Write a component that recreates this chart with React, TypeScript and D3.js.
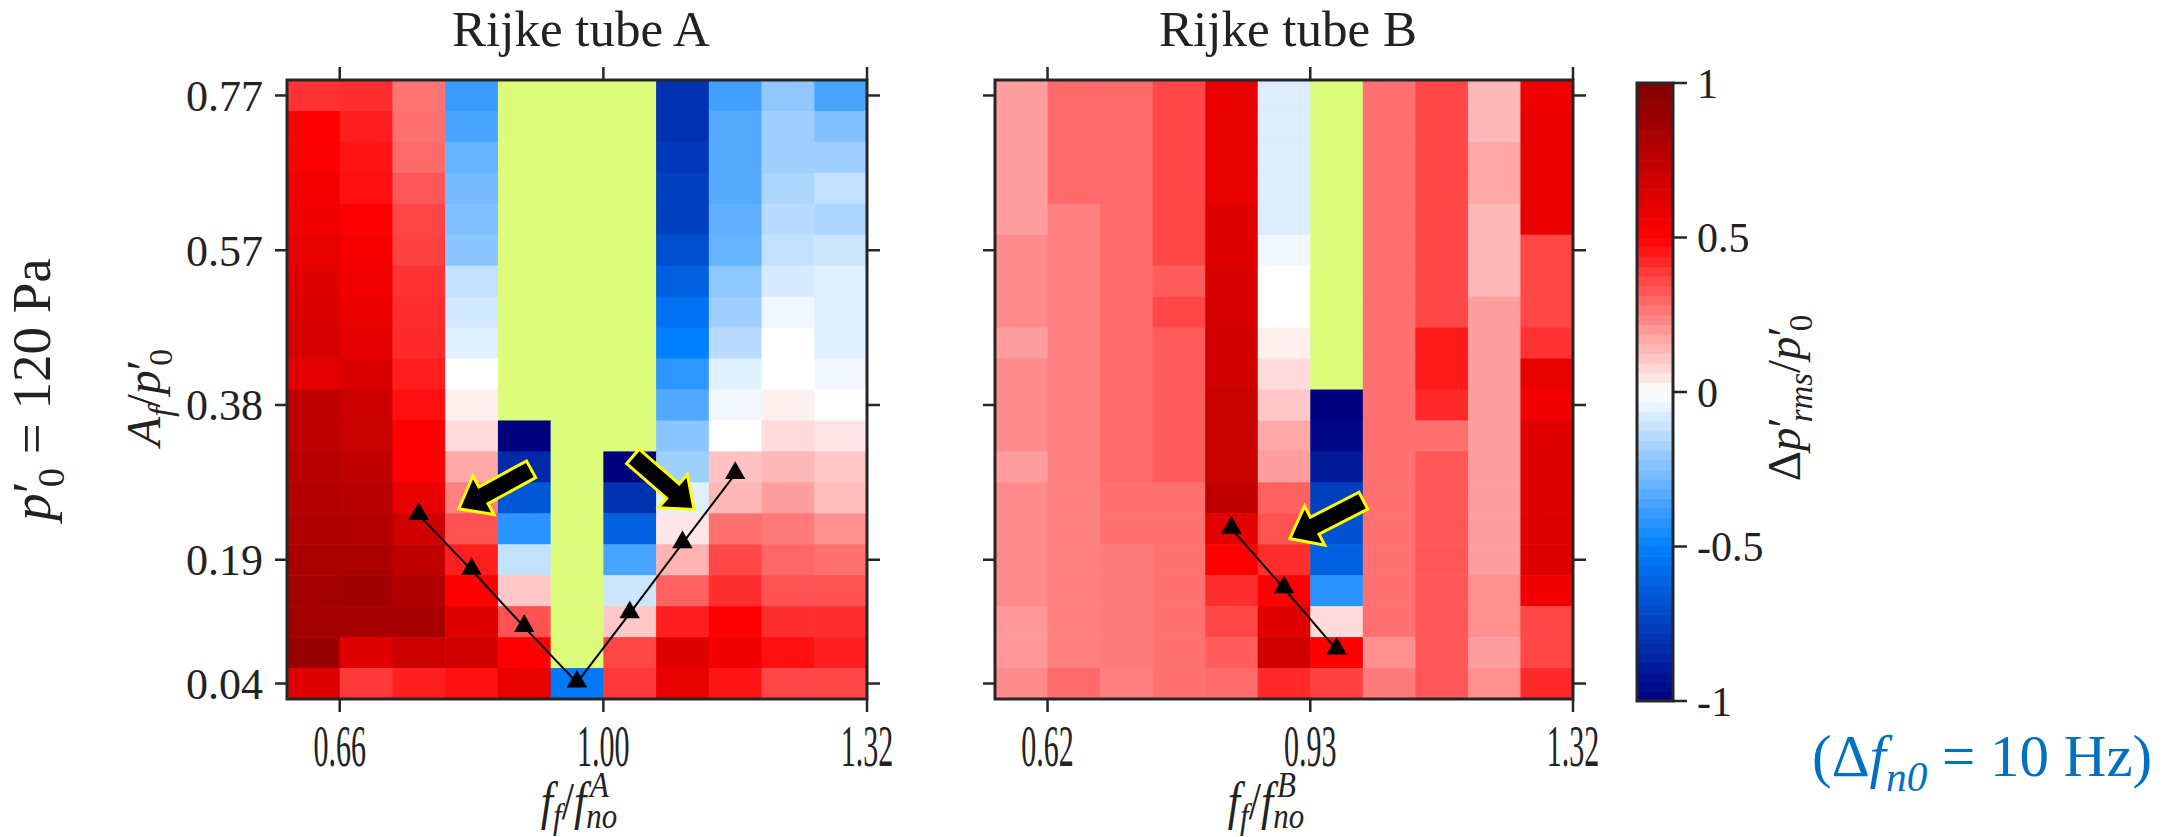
import { useEffect, useRef } from 'react';
import * as d3 from 'd3';

// rows run from top (A_f/p0 = 0.77) to bottom (0.04), 11 forcing-frequency columns; null = no data (green)
const tubeA: (number | null)[][] = [
  [0.40, 0.41, 0.27, -0.39, null, null, null, -0.81, -0.37, -0.22, -0.36],
  [0.50, 0.44, 0.28, -0.36, null, null, null, -0.81, -0.33, -0.19, -0.25],
  [0.51, 0.46, 0.29, -0.30, null, null, null, -0.78, -0.33, -0.19, -0.19],
  [0.54, 0.47, 0.33, -0.27, null, null, null, -0.75, -0.33, -0.16, -0.12],
  [0.56, 0.50, 0.36, -0.25, null, null, null, -0.75, -0.31, -0.14, -0.16],
  [0.59, 0.53, 0.37, -0.23, null, null, null, -0.69, -0.30, -0.12, -0.10],
  [0.62, 0.55, 0.40, -0.12, null, null, null, -0.62, -0.22, -0.08, -0.06],
  [0.64, 0.58, 0.41, -0.09, null, null, null, -0.56, -0.19, -0.03, -0.06],
  [0.66, 0.60, 0.42, -0.06, null, null, null, -0.50, -0.14, 0.00, -0.06],
  [0.60, 0.64, 0.44, 0.00, null, null, null, -0.41, -0.06, 0.00, -0.03],
  [0.75, 0.70, 0.47, 0.03, null, null, null, -0.34, -0.03, 0.03, 0.00],
  [0.75, 0.72, 0.50, 0.07, -1.00, null, null, -0.23, 0.00, 0.07, 0.05],
  [0.78, 0.75, 0.50, 0.17, -0.84, null, -1.00, -0.19, 0.12, 0.14, 0.11],
  [0.80, 0.78, 0.59, 0.25, -0.66, null, -0.81, -0.06, 0.14, 0.19, 0.13],
  [0.81, 0.80, 0.68, 0.34, -0.42, null, -0.62, 0.05, 0.28, 0.26, 0.22],
  [0.83, 0.83, 0.75, 0.44, -0.12, null, -0.36, 0.15, 0.36, 0.30, 0.28],
  [0.85, 0.87, 0.81, 0.50, 0.11, null, -0.10, 0.31, 0.41, 0.34, 0.34],
  [0.86, 0.84, 0.84, 0.62, 0.34, null, 0.11, 0.44, 0.50, 0.41, 0.41],
  [0.90, 0.62, 0.70, 0.68, 0.50, null, 0.36, 0.62, 0.56, 0.47, 0.44],
  [0.63, 0.39, 0.44, 0.47, 0.59, -0.53, 0.39, 0.59, 0.46, 0.36, 0.36],
];

const tubeB: (number | null)[][] = [
  [0.19, 0.29, 0.29, 0.36, 0.59, -0.07, null, 0.28, 0.36, 0.14, 0.56],
  [0.19, 0.29, 0.29, 0.36, 0.59, -0.07, null, 0.28, 0.36, 0.14, 0.58],
  [0.19, 0.29, 0.29, 0.36, 0.59, -0.07, null, 0.28, 0.36, 0.17, 0.58],
  [0.19, 0.29, 0.29, 0.36, 0.59, -0.07, null, 0.28, 0.36, 0.17, 0.58],
  [0.19, 0.25, 0.29, 0.36, 0.62, -0.07, null, 0.28, 0.36, 0.14, 0.58],
  [0.23, 0.25, 0.29, 0.36, 0.62, -0.03, null, 0.28, 0.36, 0.14, 0.36],
  [0.23, 0.25, 0.29, 0.32, 0.65, 0.00, null, 0.28, 0.36, 0.14, 0.36],
  [0.23, 0.25, 0.29, 0.36, 0.65, 0.00, null, 0.28, 0.36, 0.19, 0.36],
  [0.19, 0.25, 0.29, 0.32, 0.68, 0.03, null, 0.28, 0.45, 0.19, 0.40],
  [0.23, 0.25, 0.29, 0.32, 0.68, 0.07, null, 0.28, 0.45, 0.19, 0.59],
  [0.23, 0.25, 0.29, 0.32, 0.72, 0.11, -1.00, 0.28, 0.42, 0.19, 0.56],
  [0.23, 0.25, 0.29, 0.32, 0.72, 0.17, -0.97, 0.28, 0.28, 0.19, 0.63],
  [0.19, 0.25, 0.29, 0.32, 0.72, 0.19, -0.90, 0.28, 0.33, 0.19, 0.63],
  [0.23, 0.25, 0.28, 0.28, 0.75, 0.31, -0.75, 0.28, 0.33, 0.19, 0.63],
  [0.23, 0.25, 0.28, 0.28, 0.60, 0.34, -0.68, 0.28, 0.33, 0.19, 0.63],
  [0.23, 0.25, 0.26, 0.28, 0.50, 0.41, -0.62, 0.28, 0.33, 0.19, 0.63],
  [0.23, 0.25, 0.26, 0.28, 0.41, 0.50, -0.42, 0.28, 0.33, 0.22, 0.56],
  [0.20, 0.25, 0.26, 0.28, 0.36, 0.62, 0.07, 0.28, 0.33, 0.22, 0.36],
  [0.20, 0.25, 0.26, 0.28, 0.32, 0.68, 0.50, 0.22, 0.33, 0.19, 0.36],
  [0.23, 0.29, 0.25, 0.28, 0.29, 0.42, 0.37, 0.26, 0.33, 0.22, 0.42],
];

const yTickRows = [0, 5, 10, 15, 19];
const yTickLabels = ['0.77', '0.57', '0.38', '0.19', '0.04'];
const xTickCols = [1, 6, 11];
const xTickLabelsA = ['0.66', '1.00', '1.32'];
const xTickLabelsB = ['0.62', '0.93', '1.32'];

// triangle markers: column index, A_f/p0
const markerColsA = [2, 3, 4, 5, 6, 7, 8];
const markerAmpsA = [0.249, 0.181, 0.110, 0.041, 0.127, 0.214, 0.300];
const markerColsB = [4, 5, 6];
const markerAmpsB = [0.232, 0.158, 0.082];

// block arrows: [column, amplitude] tail -> tip
const arrowsA = [
  { from: [4.63, 0.306], to: [3.26, 0.257] },
  { from: [6.56, 0.322], to: [7.72, 0.256] },
];
const arrowsB = [{ from: [7.01, 0.267], to: [5.61, 0.220] }];

const cbTicks = [1, 0.5, 0, -0.5, -1];

const SERIF = "'Liberation Serif', 'Times New Roman', serif";
const NAN_COLOR = '#defc7b';
const INK = '#262626';

type Part = { t: string; it?: boolean; pos?: 'sub' | 'sup'; dx?: number };

function addMath(text: any, parts: Part[], fs: number, subShift = 0.26, supShift = 0.42) {
  let cur = 0;
  parts.forEach(p => {
    const target = p.pos === 'sub' ? fs * subShift : p.pos === 'sup' ? -fs * supShift : 0;
    const ts = text.append('tspan')
      .text(p.t)
      .attr('dy', target - cur)
      .attr('font-size', p.pos ? fs * 0.7 : fs)
      .attr('font-style', p.it ? 'italic' : 'normal');
    if (p.dx) ts.attr('dx', p.dx);
    cur = target;
  });
}

const App: React.FC = () => {
  const svgRef = useRef<SVGSVGElement>(null);

  useEffect(() => {
    if (!svgRef.current) return;
    const svg = d3.select(svgRef.current);
    svg.selectAll('*').remove();

    const color = d3.scaleLinear<string>()
      .domain([-1, -0.5, 0, 0.5, 1])
      .range(['#00007f', '#0080ff', '#ffffff', '#ff0000', '#7f0000'])
      .clamp(true);

    const top = 80, bottom = 699;
    const panels = [
      { title: 'Rijke tube A', x0: 287, x1: 867, data: tubeA, xt: xTickLabelsA, mc: markerColsA, ma: markerAmpsA, arrows: arrowsA, sup: 'A', lblShift: 2, yLabels: true },
      { title: 'Rijke tube B', x0: 995, x1: 1573, data: tubeB, xt: xTickLabelsB, mc: markerColsB, ma: markerAmpsB, arrows: arrowsB, sup: 'B', lblShift: -18, yLabels: false },
    ];

    panels.forEach(p => {
      const nRows = p.data.length, nCols = p.data[0].length;
      const x = d3.scaleLinear().domain([0, nCols]).range([p.x0, p.x1]);
      const rows = d3.scaleBand<number>().domain(d3.range(nRows)).range([top, bottom]);
      const rowMid = (r: number) => (rows(r) as number) + rows.bandwidth() / 2;
      const amp = d3.scaleLinear().domain([0.04, 0.77]).range([rowMid(nRows - 1), rowMid(0)]);

      const g = svg.append('g');
      const cells = p.data.flatMap((row, r) => row.map((v, c) => ({ r, c, v })));
      g.selectAll('rect.cell').data(cells).join('rect')
        .attr('class', 'cell')
        .attr('x', d => x(d.c))
        .attr('y', d => rows(d.r) as number)
        .attr('width', x(1) - x(0) + 0.6)
        .attr('height', rows.bandwidth() + 0.6)
        .attr('fill', d => d.v === null ? NAN_COLOR : color(d.v));

      // marker line + triangles
      const pts: [number, number][] = p.mc.map((c, i) => [x(c + 0.5), amp(p.ma[i])]);
      g.append('path')
        .attr('d', d3.line()(pts))
        .attr('fill', 'none')
        .attr('stroke', '#000')
        .attr('stroke-width', 2);
      g.selectAll('path.tri').data(pts).join('path')
        .attr('class', 'tri')
        .attr('transform', d => `translate(${d[0]},${d[1] - 1})`)
        .attr('d', d3.symbol(d3.symbolTriangle, 180)())
        .attr('fill', '#000');

      // block arrows
      p.arrows.forEach(a => {
        const tx = x(a.from[0]), ty = amp(a.from[1]);
        const hx = x(a.to[0]), hy = amp(a.to[1]);
        const L = Math.hypot(hx - tx, hy - ty);
        const ang = Math.atan2(hy - ty, hx - tx) * 180 / Math.PI;
        const w = 19, hw = 44, hl = 28;
        const shape: [number, number][] = [
          [0, -w / 2], [L - hl, -w / 2], [L - hl, -hw / 2], [L, 0],
          [L - hl, hw / 2], [L - hl, w / 2], [0, w / 2],
        ];
        g.append('path')
          .attr('d', d3.line()(shape) + 'Z')
          .attr('transform', `translate(${tx},${ty}) rotate(${ang})`)
          .attr('fill', '#000')
          .attr('stroke', '#ffff00')
          .attr('stroke-width', 3)
          .attr('stroke-linejoin', 'miter');
      });

      // frame
      g.append('rect')
        .attr('x', p.x0).attr('y', top)
        .attr('width', p.x1 - p.x0).attr('height', bottom - top)
        .attr('fill', 'none').attr('stroke', INK).attr('stroke-width', 3);

      // ticks (outward)
      yTickRows.forEach(r => {
        const yy = rowMid(r);
        g.append('line').attr('x1', p.x0 - 12).attr('x2', p.x0).attr('y1', yy).attr('y2', yy)
          .attr('stroke', INK).attr('stroke-width', 2.5);
        g.append('line').attr('x1', p.x1).attr('x2', p.x1 + 13).attr('y1', yy).attr('y2', yy)
          .attr('stroke', INK).attr('stroke-width', 2.5);
      });
      xTickCols.forEach(c => {
        const xx = x(c);
        g.append('line').attr('x1', xx).attr('x2', xx).attr('y1', top - 13).attr('y2', top)
          .attr('stroke', INK).attr('stroke-width', 2.5);
        g.append('line').attr('x1', xx).attr('x2', xx).attr('y1', bottom).attr('y2', bottom + 13)
          .attr('stroke', INK).attr('stroke-width', 2.5);
      });

      if (p.yLabels) {
        yTickRows.forEach((r, i) => {
          g.append('text')
            .attr('x', p.x0 - 24).attr('y', rowMid(r)).attr('dy', '0.35em')
            .attr('text-anchor', 'end')
            .attr('font-family', SERIF).attr('font-size', 44).attr('fill', '#222')
            .text(yTickLabels[i]);
        });
      }

      // x tick labels (horizontally condensed, as in the source figure)
      xTickCols.forEach((c, i) => {
        g.append('text')
          .attr('transform', `translate(${x(c)},766) scale(0.5,1)`)
          .attr('text-anchor', 'middle')
          .attr('font-family', SERIF).attr('font-size', 60).attr('fill', '#222')
          .text(p.xt[i]);
      });

      // x label f_f / f_no^X
      const xl = g.append('text')
        .attr('transform', `translate(${(p.x0 + p.x1) / 2 + p.lblShift},819) scale(0.85,1)`)
        .attr('text-anchor', 'middle')
        .attr('font-family', SERIF).attr('fill', '#222');
      addMath(xl, [
        { t: 'f', it: true },
        { t: 'f', it: true, pos: 'sub' },
        { t: '/', it: false },
        { t: 'f', it: true },
        { t: 'no', it: true, pos: 'sub' },
        { t: p.sup, it: true, pos: 'sup', dx: -32 },
      ], 52, 0.17, 0.42);

      // title
      g.append('text')
        .attr('x', (p.x0 + p.x1) / 2 + 4).attr('y', 46)
        .attr('text-anchor', 'middle')
        .attr('font-family', SERIF).attr('font-size', 51).attr('fill', '#222')
        .text(p.title);
    });

    // y label A_f / p0'
    const yl = svg.append('text')
      .attr('transform', `translate(160,${(top + bottom) / 2 + 8}) rotate(-90)`)
      .attr('text-anchor', 'middle')
      .attr('font-family', SERIF).attr('fill', '#222');
    addMath(yl, [
      { t: 'A', it: true },
      { t: 'f', it: true, pos: 'sub' },
      { t: '/', it: false },
      { t: 'p', it: true },
      { t: '′', it: false },
      { t: '0', it: false, pos: 'sub', dx: -6 },
    ], 48);

    // p0' = 120 Pa
    const pl = svg.append('text')
      .attr('transform', `translate(50,${(top + bottom) / 2}) rotate(-90)`)
      .attr('text-anchor', 'middle')
      .attr('font-family', SERIF).attr('fill', '#222');
    addMath(pl, [
      { t: 'p', it: true },
      { t: '′', it: false },
      { t: '0', it: false, pos: 'sub', dx: -6 },
      { t: ' = 120 Pa', it: false },
    ], 55);

    // colorbar
    const cbX0 = 1637, cbX1 = 1673, cbTop = 83, cbBot = 701;
    const cb = d3.scaleLinear().domain([-1, 1]).range([cbBot, cbTop]);
    const steps = d3.range(64);
    const cbG = svg.append('g');
    cbG.selectAll('rect').data(steps).join('rect')
      .attr('x', cbX0)
      .attr('y', i => cb(-1 + (i + 1) * 2 / 64))
      .attr('width', cbX1 - cbX0)
      .attr('height', (cbBot - cbTop) / 64 + 0.6)
      .attr('fill', i => color(-1 + (i + 0.5) * 2 / 64));
    cbG.append('rect')
      .attr('x', cbX0).attr('y', cbTop).attr('width', cbX1 - cbX0).attr('height', cbBot - cbTop)
      .attr('fill', 'none').attr('stroke', INK).attr('stroke-width', 3);
    cbTicks.forEach(v => {
      cbG.append('line').attr('x1', cbX1).attr('x2', cbX1 + 14).attr('y1', cb(v)).attr('y2', cb(v))
        .attr('stroke', INK).attr('stroke-width', 2.5);
      cbG.append('text')
        .attr('x', cbX1 + 24).attr('y', cb(v)).attr('dy', '0.35em')
        .attr('font-family', SERIF).attr('font-size', 42).attr('fill', '#222')
        .text(String(v));
    });
    const cl = svg.append('text')
      .attr('transform', `translate(1800,${(cbTop + cbBot) / 2 + 6}) rotate(-90)`)
      .attr('text-anchor', 'middle')
      .attr('font-family', SERIF).attr('fill', '#222');
    addMath(cl, [
      { t: 'Δ', it: false },
      { t: 'p', it: true },
      { t: '′', it: false },
      { t: 'rms', it: true, pos: 'sub', dx: -5 },
      { t: '/', it: false },
      { t: 'p', it: true },
      { t: '′', it: false },
      { t: '0', it: false, pos: 'sub', dx: -5 },
    ], 47);

    // blue note
    const note = svg.append('text')
      .attr('x', 1812).attr('y', 776)
      .attr('font-family', SERIF).attr('fill', '#0070c0');
    addMath(note, [
      { t: '(Δ', it: false },
      { t: 'f', it: true },
      { t: 'n0', it: true, pos: 'sub' },
      { t: ' = 10 Hz)', it: false },
    ], 59);
  }, []);

  return (
    <svg
      ref={svgRef}
      width={2179}
      height={837}
      style={{ position: 'absolute', left: 0, top: 0, background: '#fff', display: 'block' }}
    />
  );
};

export default App;
